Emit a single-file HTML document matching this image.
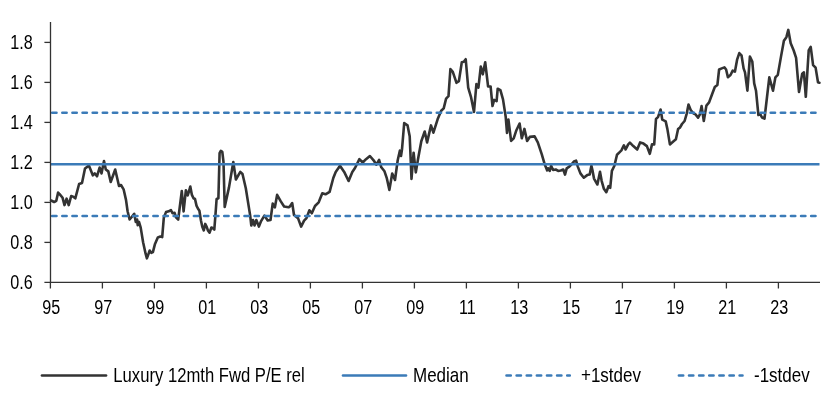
<!DOCTYPE html>
<html><head><meta charset="utf-8"><style>
html,body{margin:0;padding:0;background:#fff;}
body{width:840px;height:411px;overflow:hidden;}
svg{display:block;will-change:transform;}
.t{font-family:"Liberation Sans",sans-serif;font-size:20px;fill:#000;}
</style></head><body>
<svg width="840" height="411" viewBox="0 0 840 411">
<path d="M51.1,200.5 L54.1,202.0 L56.3,200.8 L58.1,192.6 L59.6,194.1 L62.6,197.8 L64.5,205.1 L66.6,198.7 L68.7,205.1 L71.2,196.0 L73.6,196.9 L75.3,198.3 L79.1,184.0 L82.0,183.0 L85.0,168.5 L88.9,165.6 L92.8,175.3 L94.7,173.4 L97.0,176.3 L99.6,167.5 L101.5,173.4 L104.0,161.0 L105.8,169.5 L108.3,171.4 L110.7,182.0 L115.2,169.5 L119.0,186.0 L121.0,185.0 L123.6,189.3 L126.0,199.9 L127.6,211.3 L129.6,219.5 L131.7,217.0 L134.2,213.8 L135.8,221.9 L137.1,219.5 L137.7,225.2 L139.0,221.9 L140.7,227.6 L143.1,242.3 L145.6,253.7 L146.9,258.3 L148.0,255.4 L149.7,250.5 L151.3,252.9 L152.9,252.1 L155.0,243.9 L157.8,237.4 L160.3,236.6 L162.2,237.1 L163.8,217.8 L166.0,212.1 L168.7,211.3 L170.9,210.0 L172.5,213.3 L174.6,212.9 L176.0,217.3 L178.2,219.5 L181.8,191.0 L183.6,211.4 L185.9,190.2 L187.7,195.4 L188.9,191.7 L190.3,186.6 L191.8,194.6 L193.5,198.3 L195.0,199.0 L196.5,205.6 L197.9,208.5 L199.4,210.7 L200.9,220.2 L202.3,226.8 L203.8,230.4 L205.2,223.9 L206.7,226.8 L207.9,230.4 L209.6,232.6 L211.4,227.5 L212.8,228.2 L214.3,229.7 L215.5,214.4 L216.6,199.0 L218.4,198.3 L219.6,153.0 L220.8,150.8 L222.3,151.8 L223.5,162.0 L224.7,206.9 L229.0,187.4 L233.3,162.0 L235.9,179.5 L240.3,171.9 L242.5,174.0 L245.8,188.3 L250.2,215.6 L251.3,225.5 L253.0,220.0 L254.5,225.5 L256.3,220.0 L258.9,226.6 L261.1,221.1 L264.4,215.6 L267.7,220.5 L270.5,220.0 L272.7,203.6 L274.9,207.3 L277.1,194.9 L280.8,201.4 L284.1,206.5 L288.5,207.3 L290.0,206.3 L292.2,203.0 L294.0,215.0 L298.0,218.1 L301.1,226.6 L304.1,220.6 L306.5,218.1 L309.4,210.3 L311.8,213.3 L315.0,206.0 L318.7,202.3 L322.3,193.3 L325.5,194.3 L329.6,191.8 L333.3,178.0 L335.7,171.9 L340.0,165.8 L344.2,171.9 L348.6,181.0 L352.3,172.0 L355.0,168.0 L359.4,159.2 L362.7,162.5 L366.0,159.2 L369.9,156.0 L373.6,160.3 L376.4,164.7 L379.1,159.9 L381.3,167.3 L384.5,171.3 L386.7,177.8 L389.4,189.9 L392.2,173.5 L395.0,180.0 L397.7,160.3 L399.9,150.5 L401.0,156.0 L402.0,149.4 L404.2,123.1 L407.5,125.3 L409.7,136.3 L411.5,178.9 L413.6,152.7 L415.8,172.4 L418.0,159.2 L421.3,141.2 L424.7,131.5 L427.1,142.4 L431.0,125.4 L433.4,132.7 L437.6,119.3 L441.2,110.8 L443.7,108.4 L446.1,98.6 L448.5,96.2 L450.4,69.0 L452.8,71.9 L456.5,82.8 L458.9,81.1 L461.8,62.2 L463.8,61.7 L465.7,59.2 L468.2,87.7 L471.1,97.4 L474.0,112.0 L476.4,84.1 L478.4,87.7 L480.8,66.5 L482.8,74.3 L485.2,62.2 L488.1,86.5 L490.6,86.5 L492.5,106.0 L494.2,99.9 L496.6,101.1 L497.7,88.7 L500.4,90.1 L503.0,99.4 L505.7,116.8 L507.0,132.9 L508.4,119.5 L511.1,140.9 L513.7,138.3 L516.4,130.2 L519.6,123.5 L521.8,138.3 L524.4,128.9 L527.1,140.9 L529.8,136.9 L534.6,136.4 L537.8,142.3 L541.8,154.3 L544.5,163.7 L547.2,170.4 L548.0,168.3 L549.7,170.9 L551.1,165.8 L553.1,170.0 L555.7,169.5 L558.2,170.9 L560.8,170.5 L563.3,169.5 L565.0,174.6 L566.7,168.3 L569.3,166.6 L571.8,164.1 L573.9,161.5 L576.1,160.7 L577.8,166.6 L580.4,173.4 L583.8,177.7 L587.2,175.1 L589.7,174.6 L591.4,165.8 L592.6,170.9 L594.0,178.6 L597.4,184.5 L600.0,171.7 L601.7,181.1 L603.9,188.8 L606.3,192.2 L608.5,186.2 L610.2,187.9 L611.9,170.9 L614.4,165.8 L617.0,154.7 L619.7,152.1 L621.4,150.4 L623.9,145.3 L625.6,149.5 L628.2,144.4 L629.9,142.7 L633.3,146.1 L637.2,149.5 L640.1,142.4 L643.5,143.6 L646.9,146.1 L649.8,153.8 L652.0,144.4 L654.2,144.4 L656.0,118.9 L658.0,117.1 L660.6,109.5 L662.3,119.7 L665.7,121.4 L667.4,129.1 L669.9,144.4 L673.0,141.8 L675.9,139.3 L678.1,129.1 L680.1,127.4 L682.0,124.0 L684.6,121.0 L686.8,113.3 L688.5,104.6 L690.7,110.0 L693.3,113.3 L695.5,114.4 L698.1,117.7 L699.9,114.4 L701.6,106.1 L703.8,121.0 L706.4,105.6 L709.1,102.4 L711.9,94.7 L714.8,87.0 L717.4,84.9 L719.1,69.5 L721.8,68.4 L724.4,67.4 L726.1,69.5 L727.9,77.2 L730.5,75.0 L732.7,70.6 L734.9,71.7 L737.1,59.7 L739.3,53.1 L741.5,55.3 L743.6,68.4 L745.0,72.4 L747.4,90.7 L749.9,56.6 L752.3,61.5 L754.2,83.4 L756.0,90.7 L758.4,115.0 L760.1,113.8 L762.0,117.5 L764.5,118.7 L766.9,98.0 L769.3,77.3 L773.0,90.7 L775.4,77.3 L777.8,74.9 L781.0,56.6 L783.9,40.8 L786.4,37.2 L788.3,29.9 L790.7,43.2 L793.7,50.5 L796.1,57.8 L799.0,91.9 L802.2,73.7 L803.9,72.4 L805.8,96.8 L808.7,50.5 L810.7,46.9 L813.1,65.1 L815.6,67.6 L818.0,82.2 L819.4,82.7" fill="none" stroke="#333" stroke-width="2.6" stroke-linejoin="round" stroke-linecap="round"/>
<line x1="50.5" y1="164.2" x2="819.5" y2="164.2" stroke="#3b7bb8" stroke-width="2.6"/>
<line x1="52.2" y1="112.7" x2="816" y2="112.7" stroke="#3b7bb8" stroke-width="2.6" stroke-dasharray="4.3 5.82" stroke-linecap="round"/>
<line x1="52.2" y1="216" x2="816" y2="216" stroke="#3b7bb8" stroke-width="2.6" stroke-dasharray="4.3 5.82" stroke-linecap="round"/>
<line x1="50.5" y1="22" x2="50.5" y2="282.4" stroke="#333" stroke-width="1.3"/>
<line x1="44.4" y1="282.4" x2="820" y2="282.4" stroke="#333" stroke-width="1.3"/>
<line x1="44.4" y1="42.4" x2="50.5" y2="42.4" stroke="#333" stroke-width="1.3"/>
<text transform="translate(32.7 48.7) scale(0.81 1)" text-anchor="end" class="t">1.8</text>
<line x1="44.4" y1="82.4" x2="50.5" y2="82.4" stroke="#333" stroke-width="1.3"/>
<text transform="translate(32.7 88.7) scale(0.81 1)" text-anchor="end" class="t">1.6</text>
<line x1="44.4" y1="122.4" x2="50.5" y2="122.4" stroke="#333" stroke-width="1.3"/>
<text transform="translate(32.7 128.7) scale(0.81 1)" text-anchor="end" class="t">1.4</text>
<line x1="44.4" y1="162.4" x2="50.5" y2="162.4" stroke="#333" stroke-width="1.3"/>
<text transform="translate(32.7 168.7) scale(0.81 1)" text-anchor="end" class="t">1.2</text>
<line x1="44.4" y1="202.4" x2="50.5" y2="202.4" stroke="#333" stroke-width="1.3"/>
<text transform="translate(32.7 208.7) scale(0.81 1)" text-anchor="end" class="t">1.0</text>
<line x1="44.4" y1="242.4" x2="50.5" y2="242.4" stroke="#333" stroke-width="1.3"/>
<text transform="translate(32.7 248.7) scale(0.81 1)" text-anchor="end" class="t">0.8</text>
<text transform="translate(32.7 288.7) scale(0.81 1)" text-anchor="end" class="t">0.6</text>
<line x1="50.4" y1="282.4" x2="50.4" y2="288.5" stroke="#333" stroke-width="1.3"/>
<text transform="translate(51.3 313.7) scale(0.81 1)" text-anchor="middle" class="t">95</text>
<line x1="102.4" y1="282.4" x2="102.4" y2="288.5" stroke="#333" stroke-width="1.3"/>
<text transform="translate(103.3 313.7) scale(0.81 1)" text-anchor="middle" class="t">97</text>
<line x1="154.4" y1="282.4" x2="154.4" y2="288.5" stroke="#333" stroke-width="1.3"/>
<text transform="translate(155.3 313.7) scale(0.81 1)" text-anchor="middle" class="t">99</text>
<line x1="206.4" y1="282.4" x2="206.4" y2="288.5" stroke="#333" stroke-width="1.3"/>
<text transform="translate(207.3 313.7) scale(0.81 1)" text-anchor="middle" class="t">01</text>
<line x1="258.4" y1="282.4" x2="258.4" y2="288.5" stroke="#333" stroke-width="1.3"/>
<text transform="translate(259.3 313.7) scale(0.81 1)" text-anchor="middle" class="t">03</text>
<line x1="310.4" y1="282.4" x2="310.4" y2="288.5" stroke="#333" stroke-width="1.3"/>
<text transform="translate(311.3 313.7) scale(0.81 1)" text-anchor="middle" class="t">05</text>
<line x1="362.4" y1="282.4" x2="362.4" y2="288.5" stroke="#333" stroke-width="1.3"/>
<text transform="translate(363.3 313.7) scale(0.81 1)" text-anchor="middle" class="t">07</text>
<line x1="414.4" y1="282.4" x2="414.4" y2="288.5" stroke="#333" stroke-width="1.3"/>
<text transform="translate(415.3 313.7) scale(0.81 1)" text-anchor="middle" class="t">09</text>
<line x1="466.4" y1="282.4" x2="466.4" y2="288.5" stroke="#333" stroke-width="1.3"/>
<text transform="translate(467.3 313.7) scale(0.81 1)" text-anchor="middle" class="t">11</text>
<line x1="518.4" y1="282.4" x2="518.4" y2="288.5" stroke="#333" stroke-width="1.3"/>
<text transform="translate(519.3 313.7) scale(0.81 1)" text-anchor="middle" class="t">13</text>
<line x1="570.4" y1="282.4" x2="570.4" y2="288.5" stroke="#333" stroke-width="1.3"/>
<text transform="translate(571.3 313.7) scale(0.81 1)" text-anchor="middle" class="t">15</text>
<line x1="622.4" y1="282.4" x2="622.4" y2="288.5" stroke="#333" stroke-width="1.3"/>
<text transform="translate(623.3 313.7) scale(0.81 1)" text-anchor="middle" class="t">17</text>
<line x1="674.4" y1="282.4" x2="674.4" y2="288.5" stroke="#333" stroke-width="1.3"/>
<text transform="translate(675.3 313.7) scale(0.81 1)" text-anchor="middle" class="t">19</text>
<line x1="726.4" y1="282.4" x2="726.4" y2="288.5" stroke="#333" stroke-width="1.3"/>
<text transform="translate(727.3 313.7) scale(0.81 1)" text-anchor="middle" class="t">21</text>
<line x1="778.4" y1="282.4" x2="778.4" y2="288.5" stroke="#333" stroke-width="1.3"/>
<text transform="translate(779.3 313.7) scale(0.81 1)" text-anchor="middle" class="t">23</text>
<line x1="42" y1="375.5" x2="106" y2="375.5" stroke="#333" stroke-width="2.7" stroke-linecap="round"/>
<text transform="translate(113.3 381.7) scale(0.833 1)" class="t">Luxury 12mth Fwd P/E rel</text>
<line x1="343" y1="375.5" x2="406" y2="375.5" stroke="#3b7bb8" stroke-width="2.6" stroke-linecap="round"/>
<text transform="translate(413 381.7) scale(0.85 1)" class="t">Median</text>
<line x1="506.5" y1="375.5" x2="569.8" y2="375.5" stroke="#3b7bb8" stroke-width="2.6" stroke-dasharray="4.3 5.82" stroke-linecap="round"/>
<text transform="translate(581 381.7) scale(0.85 1)" class="t">+1stdev</text>
<line x1="678.9" y1="375.5" x2="742.5" y2="375.5" stroke="#3b7bb8" stroke-width="2.6" stroke-dasharray="4.3 5.82" stroke-linecap="round"/>
<text transform="translate(754 381.7) scale(0.85 1)" class="t">-1stdev</text>
</svg>
</body></html>
